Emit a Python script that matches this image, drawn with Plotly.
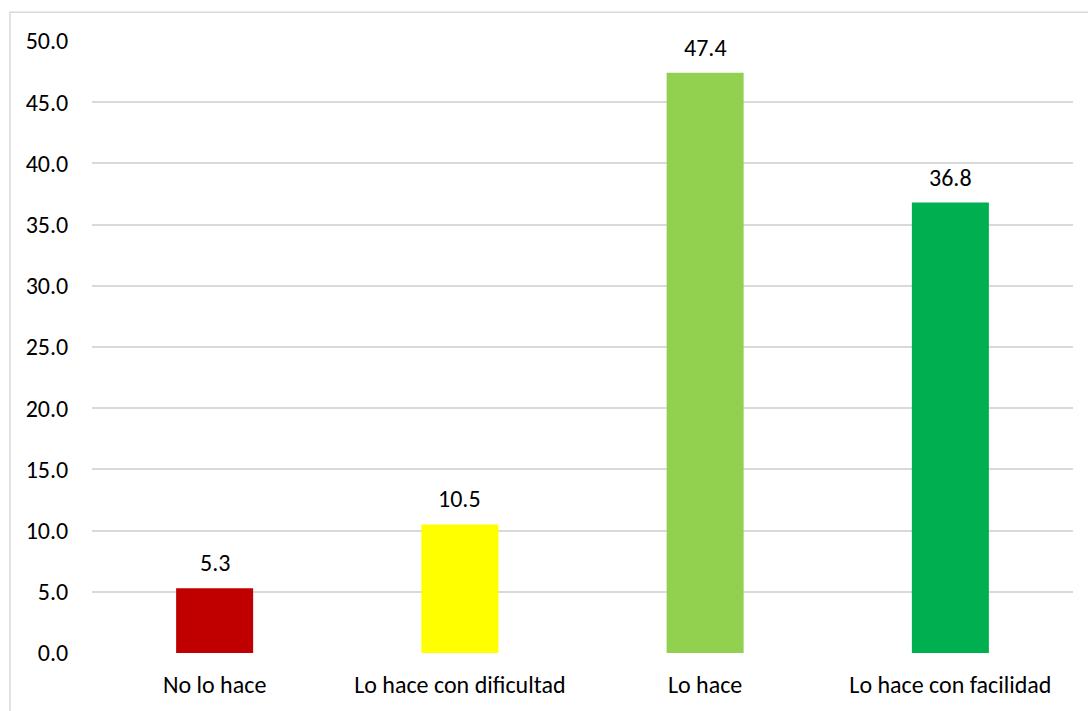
import plotly.graph_objects as go

categories = ["No lo hace", "Lo hace con dificultad", "Lo hace", "Lo hace con facilidad"]
values = [5.3, 10.5, 47.4, 36.8]
colors = ["#C00000", "#FFFF00", "#92D050", "#00B050"]
y_ticks = [0, 5, 10, 15, 20, 25, 30, 35, 40, 45, 50]

font_family = "Carlito, Calibri, Lato, 'Open Sans', sans-serif"
fs = 24

fig = go.Figure()
fig.add_trace(go.Bar(x=categories, y=values, marker=dict(color=colors, line=dict(width=0)),
                     hoverinfo="x+y"))

for c, v in zip(categories, values):
    fig.add_annotation(x=c, y=v, text=f"{v:.1f}", showarrow=False, yanchor="bottom",
                       yshift=9, font=dict(size=fs, color="#000000", family=font_family))

fig.add_shape(type="rect", xref="paper", yref="paper",
              x0=-82/981, x1=1.05, y0=-0.2, y1=1 + 29/620,
              line=dict(color="#D9D9D9", width=1.5), layer="below")

fig.update_layout(
    width=1088, height=711,
    margin=dict(l=92, r=15, t=41, b=50),
    paper_bgcolor="white", plot_bgcolor="white",
    bargap=0.686,
    showlegend=False,
    font=dict(family=font_family, size=fs, color="#000000"),
    xaxis=dict(showgrid=False, showline=False, zeroline=False, ticks="outside", ticklen=10,
               tickcolor="rgba(0,0,0,0)", tickfont=dict(size=fs, color="#000000")),
    yaxis=dict(range=[0, 50], tickvals=y_ticks, tickformat=".1f", showgrid=True,
               gridcolor="#D9D9D9", gridwidth=1.5, zeroline=False, showline=False,
               ticks="outside", ticklen=18, tickcolor="rgba(0,0,0,0)",
               tickfont=dict(size=fs, color="#000000")),
)

fig.write_html("out.html", config={"displayModeBar": False},
               post_script="document.body.style.margin='0';document.body.style.overflow='hidden';")
